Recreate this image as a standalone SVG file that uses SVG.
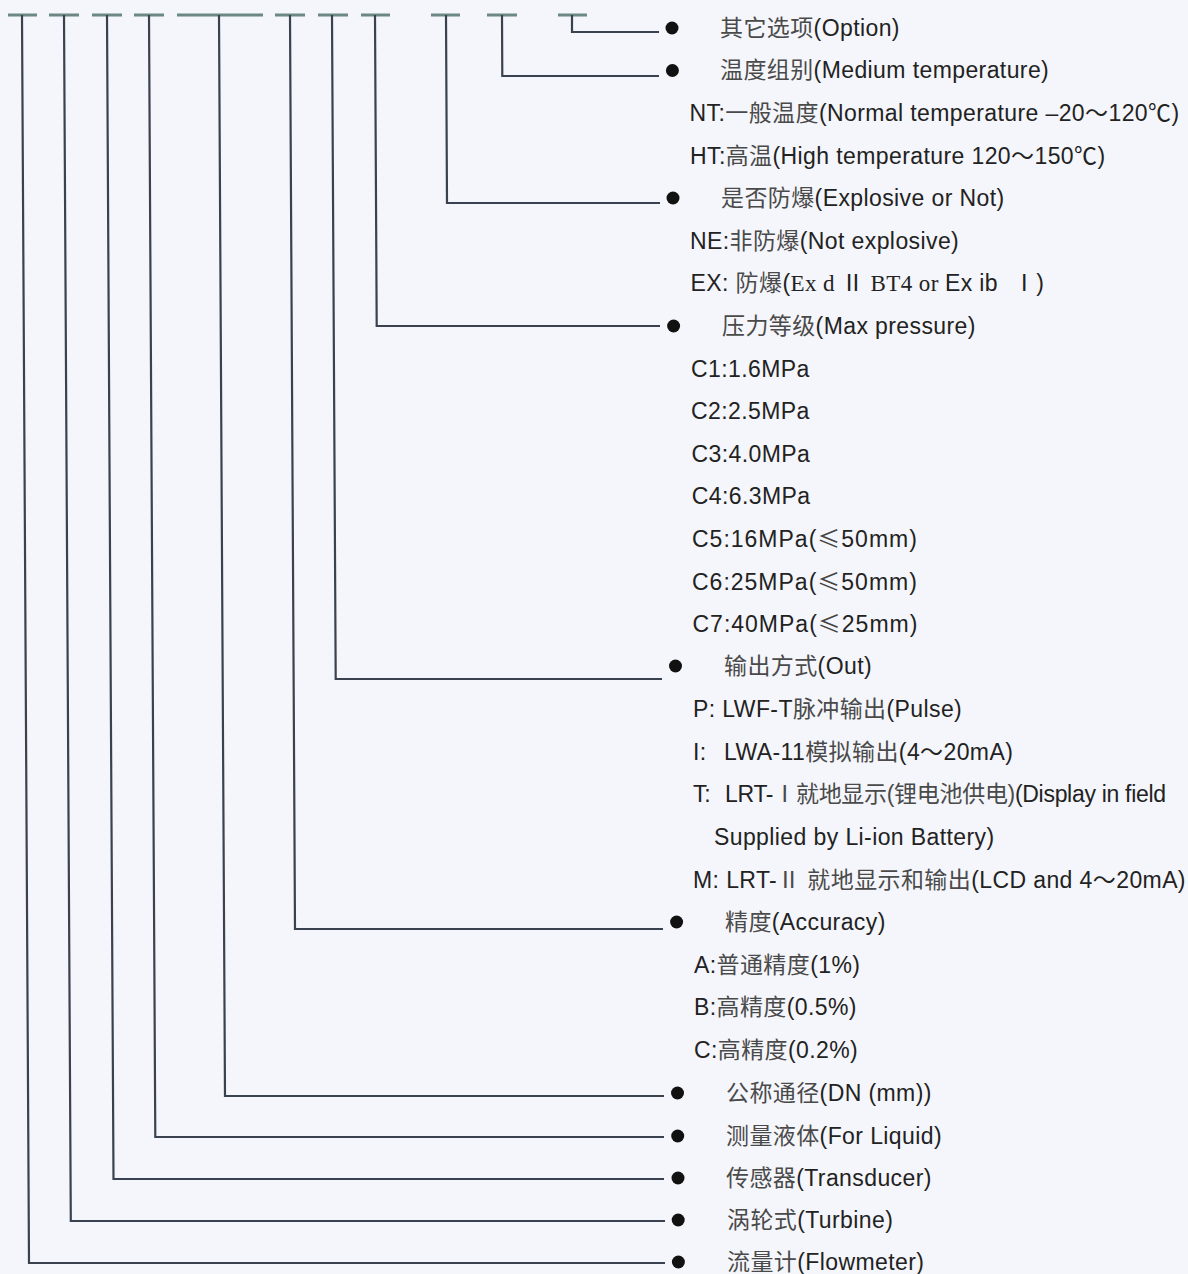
<svg xmlns="http://www.w3.org/2000/svg" width="1188" height="1274" viewBox="0 0 1188 1274">
<style>
text{font-family:"Liberation Sans","Noto Sans CJK SC",sans-serif;font-size:23px;fill:#222;letter-spacing:0.4px}
.c{fill:#4a4a4a}
.s{font-family:"Liberation Serif","Noto Sans CJK SC",serif}
.k{font-family:"Noto Sans CJK SC",sans-serif;fill:#444}
.w{letter-spacing:1px}
.n{letter-spacing:-0.3px}
.ln{fill:none;stroke:#3a4250;stroke-width:2.2}
.bar{fill:none;stroke:#6b8884;stroke-width:3}
.dot{fill:#111}
</style>
<rect width="1188" height="1274" fill="#f5f6fb"/>
<g id="connectors">
<path class="bar" d="M8 15H37M49 15H79M92 15H122M134 15H164M177 15H263M275 15H305M318 15H348M361 15H390M431 15H460M487 15H517M558 15H587"/>
<path class="ln" d="M572 15L572 32L659 32"/>
<path class="ln" d="M502 15L502.3 76L659 76"/>
<path class="ln" d="M446 15L447 203L660 203"/>
<path class="ln" d="M375 15L376.7 326L660 326"/>
<path class="ln" d="M332 15L335.7 679L662 679"/>
<path class="ln" d="M290 15L295 929L663 929"/>
<path class="ln" d="M219 15L225 1096L664 1096"/>
<path class="ln" d="M149 15L155.3 1137L664 1137"/>
<path class="ln" d="M107 15L113.5 1179L664 1179"/>
<path class="ln" d="M64 15L70.8 1221L665 1221"/>
<path class="ln" d="M22 15L29 1263L665 1263"/>
</g>
<g id="n-option"><circle class="dot" cx="672" cy="28" r="6.5"/><text x="720" y="36"><tspan class="c">其它选项</tspan>(Option)</text></g>
<g id="n-temp"><circle class="dot" cx="672.4" cy="70.5" r="6.5"/><text x="720" y="78"><tspan class="c">温度组别</tspan>(Medium temperature)</text>
<text x="689.6" y="121">NT:<tspan class="c">一般温度</tspan>(Normal temperature –20～120℃)</text>
<text x="690" y="164">HT:<tspan class="c">高温</tspan>(High temperature 120～150℃)</text></g>
<g id="n-explosive"><circle class="dot" cx="673" cy="198" r="6.5"/><text x="721" y="206"><tspan class="c">是否防爆</tspan>(Explosive or Not)</text>
<text x="690" y="249">NE:<tspan class="c">非防爆</tspan>(Not explosive)</text>
<text x="690.5" y="291">EX: <tspan class="c">防爆</tspan>(<tspan class="s">Ex d Ⅱ BT4 or </tspan>Ex ib  <tspan class="s" dx="8">Ⅰ</tspan>)</text></g>
<g id="n-pressure"><circle class="dot" cx="673.6" cy="326" r="6.5"/><text x="722" y="334"><tspan class="c">压力等级</tspan>(Max pressure)</text>
<text x="691" y="377">C1:1.6MPa</text>
<text x="691" y="419">C2:2.5MPa</text>
<text x="691.5" y="462">C3:4.0MPa</text>
<text x="691.8" y="504">C4:6.3MPa</text>
<text class="w" x="692" y="547">C5:16MPa(<tspan class="k">≤</tspan>50mm)</text>
<text class="w" x="692" y="590">C6:25MPa(<tspan class="k">≤</tspan>50mm)</text>
<text class="w" x="692.5" y="632">C7:40MPa(<tspan class="k">≤</tspan>25mm)</text></g>
<g id="n-out"><circle class="dot" cx="675.5" cy="666" r="6.5"/><text x="724" y="674"><tspan class="c">输出方式</tspan>(Out)</text>
<text x="693" y="717">P: LWF-T<tspan class="c">脉冲输出</tspan>(Pulse)</text>
<text x="693" y="760">I:<tspan x="724">LWA-11</tspan><tspan class="c">模拟输出</tspan>(4～20mA)</text>
<text class="n" x="693" y="802">T:<tspan x="725">LRT-</tspan><tspan class="c">Ⅰ就地显示(锂电池供电)</tspan>(Display in field</text>
<text x="714" y="845">Supplied by Li-ion Battery)</text>
<text x="693" y="888">M: LRT-<tspan class="c">Ⅱ 就地显示和输出</tspan>(LCD and 4～20mA)</text></g>
<g id="n-accuracy"><circle class="dot" cx="676.6" cy="922" r="6.5"/><text x="725" y="930"><tspan class="c">精度</tspan>(Accuracy)</text>
<text x="694" y="973">A:<tspan class="c">普通精度</tspan>(1%)</text>
<text x="694" y="1015">B:<tspan class="c">高精度</tspan>(0.5%)</text>
<text x="694" y="1058">C:<tspan class="c">高精度</tspan>(0.2%)</text></g>
<g id="n-dn"><circle class="dot" cx="677.5" cy="1093" r="6.5"/><text x="726" y="1101"><tspan class="c">公称通径</tspan>(DN (mm))</text></g>
<g id="n-liquid"><circle class="dot" cx="677.7" cy="1136" r="6.5"/><text x="726" y="1144"><tspan class="c">测量液体</tspan>(For Liquid)</text></g>
<g id="n-transducer"><circle class="dot" cx="678" cy="1178" r="6.5"/><text x="726" y="1186"><tspan class="c">传感器</tspan>(Transducer)</text></g>
<g id="n-turbine"><circle class="dot" cx="678.2" cy="1220" r="6.5"/><text x="727" y="1228"><tspan class="c">涡轮式</tspan>(Turbine)</text></g>
<g id="n-flowmeter"><circle class="dot" cx="678.4" cy="1262" r="6.5"/><text x="727" y="1270"><tspan class="c">流量计</tspan>(Flowmeter)</text></g>
</svg>
